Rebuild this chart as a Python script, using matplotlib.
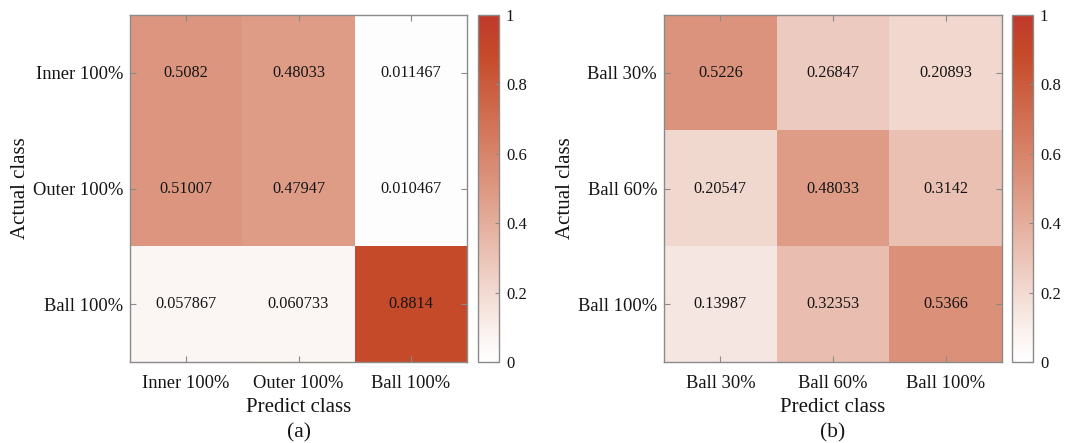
import numpy as np
import matplotlib
matplotlib.use("Agg")
import matplotlib.pyplot as plt
from matplotlib.colors import LinearSegmentedColormap

plt.rcParams['font.family'] = ['Liberation Serif', 'DejaVu Serif']

# Confusion matrix (a): bearing fault types
labels_a = ["Inner 100%", "Outer 100%", "Ball 100%"]
cm_a = [
    [0.5082, 0.48033, 0.011467],
    [0.51007, 0.47947, 0.010467],
    [0.057867, 0.060733, 0.8814],
]

# Confusion matrix (b): ball fault severities
labels_b = ["Ball 30%", "Ball 60%", "Ball 100%"]
cm_b = [
    [0.5226, 0.26847, 0.20893],
    [0.20547, 0.48033, 0.3142],
    [0.13987, 0.32353, 0.5366],
]

panel_tags = ["(a)", "(b)"]

cmap = LinearSegmentedColormap.from_list(
    "white_red",
    [(0.0, (1.0, 1.0, 1.0)),
     (0.1, (249/255, 239/255, 235/255)),
     (0.5, (221/255, 152/255, 130/255)),
     (0.88, (198/255, 75/255, 42/255)),
     (1.0, (192/255, 57/255, 43/255))],
)

W, H = 1077, 443
fig = plt.figure(figsize=(W / 100, H / 100), dpi=100)

frame_color = "#8a8a8a"
text_color = "#141414"

def px_axes(x0, x1, y0, y1):
    return [x0 / W, 1 - y1 / H, (x1 - x0) / W, (y1 - y0) / H]

panels = [
    (cm_a, labels_a, (130, 467), (478, 499), 0),
    (cm_b, labels_b, (664, 1002), (1012, 1033), 1),
]

for cm, labels, (ax0, ax1), (cb0, cb1), k in panels:
    data = np.array(cm)
    ax = fig.add_axes(px_axes(ax0, ax1, 15, 362))
    im = ax.imshow(data, cmap=cmap, vmin=0, vmax=1, aspect="auto",
                   interpolation="nearest")
    n = len(labels)
    for i in range(n):
        for j in range(n):
            ax.text(j, i, f"{data[i, j]:.5g}", ha="center", va="center",
                    fontsize=11.7, color=text_color)
    ax.set_xticks(range(n))
    ax.set_yticks(range(n))
    ax.set_xticklabels(labels, fontsize=13.3, color=text_color)
    ax.set_yticklabels(labels, fontsize=13.3, color=text_color)
    ax.tick_params(axis="x", direction="in", length=4, width=0.8,
                   color=frame_color, top=True, pad=9)
    ax.tick_params(axis="y", direction="in", length=4, width=0.8,
                   color=frame_color, right=True, pad=5)
    for s in ax.spines.values():
        s.set_color(frame_color)
        s.set_linewidth(1.0)
    ax.set_xlabel("Predict class", fontsize=15, color=text_color, labelpad=5)
    ax.set_ylabel("Actual class", fontsize=15, color=text_color, labelpad=2)

    cax = fig.add_axes(px_axes(cb0, cb1, 15, 362))
    cb = fig.colorbar(im, cax=cax)
    cb.set_ticks([0, 0.2, 0.4, 0.6, 0.8, 1])
    cb.set_ticklabels(["0", "0.2", "0.4", "0.6", "0.8", "1"])
    cax.tick_params(direction="in", length=3, width=0.8, color=frame_color,
                    labelsize=12, labelcolor=text_color, pad=5)
    cb.outline.set_edgecolor(frame_color)
    cb.outline.set_linewidth(1.0)

    fig.text(((ax0 + ax1) / 2) / W, 1 - 433 / H, panel_tags[k],
             ha="center", va="center", fontsize=15.5, color=text_color)

fig.savefig("out.png", dpi=100, facecolor="white")
